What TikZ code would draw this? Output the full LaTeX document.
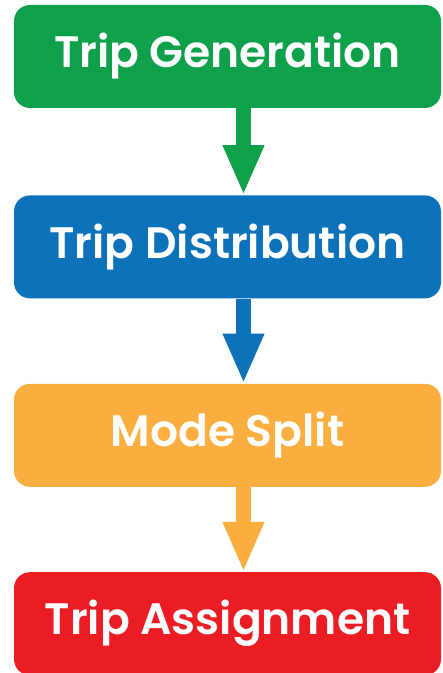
\documentclass[tikz,border=0pt]{standalone}
\usepackage{fontspec}
\setmainfont{Poppins}[BoldFont={Poppins SemiBold}]
\usepackage{tikz}
\usetikzlibrary{positioning}
\usetikzlibrary{arrows.meta}

\definecolor{genGreen}{HTML}{0EA04B}
\definecolor{distBlue}{HTML}{0E72BA}
\definecolor{modeOrange}{HTML}{FBAF41}
\definecolor{assignRed}{HTML}{EC1C24}

\begin{document}
\begin{tikzpicture}[
    x=1pt, y=1pt,
    block/.style={align=center, rectangle, rounded corners=16pt, text=white,
        minimum width=427pt, minimum height=103pt, inner sep=0pt,
        font=\fontsize{44}{50}\selectfont\bfseries},
    flow/.style={line width=15pt, -{Triangle[width=38pt, length=50pt]}},
]
    \useasboundingbox (0,0) rectangle (443,673);

    \node[block, fill=genGreen] (B1) at (227.5,616.5) {Trip Generation};
    \node[block, fill=distBlue] (B2) [below=87pt of B1] {Trip Distribution};
    \node[block, fill=modeOrange] (B3) [below=85pt of B2] {Mode Split};
    \node[block, fill=assignRed] (B4) [below=85pt of B3] {Trip Assignment};

    \draw[flow, genGreen] ([xshift=16pt]B1.south) -- ([xshift=16pt]B2.north);
    \draw[flow, distBlue] ([xshift=16pt]B2.south) -- ([xshift=16pt]B3.north);
    \draw[flow, modeOrange] ([xshift=16pt]B3.south) -- ([xshift=16pt]B4.north);

\end{tikzpicture}
\end{document}
